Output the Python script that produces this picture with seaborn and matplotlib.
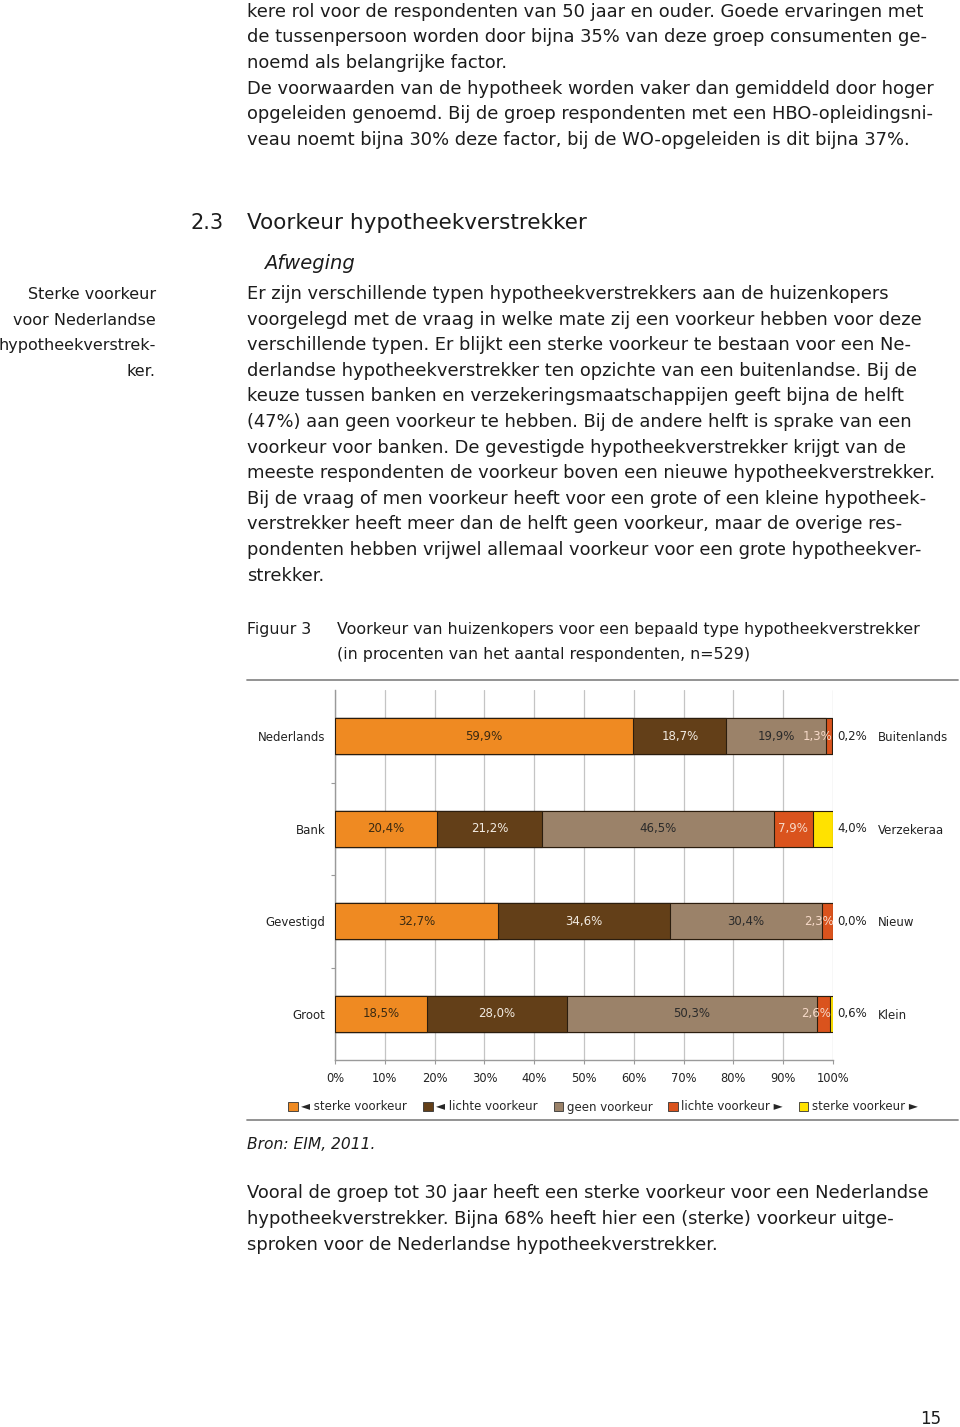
import numpy as np
import pandas as pd
import matplotlib
matplotlib.use("Agg")
import matplotlib.pyplot as plt
from matplotlib.patches import Patch
from matplotlib.lines import Line2D
import seaborn as sns

# ---------------- data ----------------
categories = ["Nederlands", "Bank", "Gevestigd", "Groot"]
right_labels = ["Buitenlands", "Verzekeraa", "Nieuw", "Klein"]
series_names = ["\u25C4 sterke voorkeur", "\u25C4 lichte voorkeur", "geen voorkeur",
                "lichte voorkeur \u25BA", "sterke voorkeur \u25BA"]
sterk_links = [59.9, 20.4, 32.7, 18.5]
licht_links = [18.7, 21.2, 34.6, 28.0]
geen = [19.9, 46.5, 30.4, 50.3]
licht_rechts = [1.3, 7.9, 2.3, 2.6]
sterk_rechts = [0.2, 4.0, 0.0, 0.6]
x_ticks = [0, 10, 20, 30, 40, 50, 60, 70, 80, 90, 100]
x_ticklabels = ["0%", "10%", "20%", "30%", "40%", "50%", "60%", "70%", "80%", "90%", "100%"]

colors = ["#EF8A22", "#633F18", "#9B8269", "#DA531D", "#FFE200"]
label_colors = ["#3a2a12", "#f2ebe2", "#2a2a2a", "#f6d9c8", "#222222"]

sns.set_theme(style="white")
plt.rcParams["font.family"] = ["DejaVu Sans"]

W, H = 960, 1427
fig = plt.figure(figsize=(W / 100, H / 100), dpi=100)
fig.patch.set_facecolor("white")

def fx(x):
    return x / W

def fy(y):
    return 1 - y / H

TXT = "#1c1c1c"
BODY = 12.9

def line(x, y, s, size=BODY, **kw):
    fig.text(fx(x), fy(y), s, fontsize=size, color=TXT, va="baseline", **kw)

# ---------------- top paragraph ----------------
top_lines = [
    "kere rol voor de respondenten van 50 jaar en ouder. Goede ervaringen met",
    "de tussenpersoon worden door bijna 35% van deze groep consumenten ge-",
    "noemd als belangrijke factor.",
    "De voorwaarden van de hypotheek worden vaker dan gemiddeld door hoger",
    "opgeleiden genoemd. Bij de groep respondenten met een HBO-opleidingsni-",
    "veau noemt bijna 30% deze factor, bij de WO-opgeleiden is dit bijna 37%.",
]
top_y = [17, 42, 68, 94, 119, 145]
for s, y in zip(top_lines, top_y):
    line(247, y, s)

# heading
line(190, 229, "2.3", size=15)
line(247, 229, "Voorkeur hypotheekverstrekker", size=15.5)
line(264, 269, "Afweging", size=14, style="italic")

# sidebar
side = ["Sterke voorkeur", "voor Nederlandse", "hypotheekverstrek-", "ker."]
for i, s in enumerate(side):
    line(156, 299 + i * 25.6, s, size=11.5, ha="right")

body = [
    "Er zijn verschillende typen hypotheekverstrekkers aan de huizenkopers",
    "voorgelegd met de vraag in welke mate zij een voorkeur hebben voor deze",
    "verschillende typen. Er blijkt een sterke voorkeur te bestaan voor een Ne-",
    "derlandse hypotheekverstrekker ten opzichte van een buitenlandse. Bij de",
    "keuze tussen banken en verzekeringsmaatschappijen geeft bijna de helft",
    "(47%) aan geen voorkeur te hebben. Bij de andere helft is sprake van een",
    "voorkeur voor banken. De gevestigde hypotheekverstrekker krijgt van de",
    "meeste respondenten de voorkeur boven een nieuwe hypotheekverstrekker.",
    "Bij de vraag of men voorkeur heeft voor een grote of een kleine hypotheek-",
    "verstrekker heeft meer dan de helft geen voorkeur, maar de overige res-",
    "pondenten hebben vrijwel allemaal voorkeur voor een grote hypotheekver-",
    "strekker.",
]
for i, s in enumerate(body):
    line(247, 299 + i * 25.6, s)

# caption
CAP = 11.4
line(247, 634, "Figuur 3", size=CAP)
line(337, 634, "Voorkeur van huizenkopers voor een bepaald type hypotheekverstrekker", size=CAP)
line(337, 659, "(in procenten van het aantal respondenten, n=529)", size=CAP)

# rules
for yy in (680, 1120):
    fig.add_artist(Line2D([fx(247), fx(958)], [fy(yy), fy(yy)], color="#8a8a8a", lw=1.3,
                          transform=fig.transFigure))

line(247, 1149, "Bron: EIM, 2011.", size=11.2, style="italic")

bottom = [
    "Vooral de groep tot 30 jaar heeft een sterke voorkeur voor een Nederlandse",
    "hypotheekverstrekker. Bijna 68% heeft hier een (sterke) voorkeur uitge-",
    "sproken voor de Nederlandse hypotheekverstrekker.",
]
for i, s in enumerate(bottom):
    line(247, 1198 + i * 25.8, s)

line(941, 1424, "15", size=12, ha="right")

# ---------------- chart ----------------
ax = fig.add_axes([fx(335), fy(1060), fx(833) - fx(335), (1060 - 690) / H])
series = [sterk_links, licht_links, geen, licht_rechts, sterk_rechts]
data = np.array(series)
cum = np.cumsum(data, axis=0)

for k in range(len(series) - 1, -1, -1):
    df = pd.DataFrame({"cat": categories, "val": cum[k]})
    sns.barplot(data=df, x="val", y="cat", orient="h", color=colors[k], width=0.39,
                edgecolor="#2b1d0e", linewidth=0.8, saturation=1, ax=ax, zorder=3)

ax.set_xlim(0, 100)
ax.set_ylim(3.5, -0.5)

VAL = 8.5
for r in range(len(categories)):
    for k in range(len(series)):
        v = data[k, r]
        txt = f"{v:.1f}%".replace(".", ",")
        end = cum[k, r]
        start = end - v
        if k == 4:
            ax.text(100.9, r, txt, ha="left", va="center", fontsize=VAL, color=label_colors[k], zorder=5)
        elif v < 5:
            ax.text(end + 0.1, r, txt, ha="right", va="center", fontsize=VAL, color=label_colors[k], zorder=5)
        else:
            ax.text((start + end) / 2, r, txt, ha="center", va="center", fontsize=VAL,
                    color=label_colors[k], zorder=5)

ax.set_xticks(x_ticks)
ax.set_xticklabels(x_ticklabels, fontsize=8.3, color="#222")
ax.set_yticks(range(len(categories)))
ax.set_yticklabels(categories, fontsize=8.5, color="#222")
ax.set_yticks([0.5, 1.5, 2.5], minor=True)
ax.set_xlabel("")
ax.set_ylabel("")
ax.xaxis.grid(True, color="#c4c4c4", lw=0.9, zorder=0)
ax.yaxis.grid(False)
ax.set_axisbelow(True)
for sp in ("top", "right"):
    ax.spines[sp].set_visible(False)
for sp in ("left", "bottom"):
    ax.spines[sp].set_color("#9a9a9a")
    ax.spines[sp].set_linewidth(1.0)
ax.tick_params(axis="y", which="major", length=0, pad=7)
ax.tick_params(axis="y", which="minor", length=3, color="#9a9a9a", width=0.8, left=True)
ax.tick_params(axis="x", which="major", length=3, color="#9a9a9a", width=0.8, pad=6, bottom=True)
ax.set_facecolor("white")

ax2 = ax.twinx()
ax2.set_ylim(ax.get_ylim())
ax2.set_yticks(range(len(categories)))
ax2.set_yticklabels(right_labels, fontsize=8.5, color="#222")
ax2.tick_params(axis="y", length=0, pad=32)
ax2.grid(False)
for sp in ax2.spines.values():
    sp.set_visible(False)

handles = [Patch(facecolor=c, edgecolor="#333333", linewidth=0.6) for c in colors]
fig.legend(handles, series_names, loc="center", bbox_to_anchor=(fx(603), fy(1107)),
           ncol=5, frameon=False, fontsize=8.5, handlelength=0.8, handleheight=0.8,
           handletextpad=0.3, columnspacing=1.35, borderaxespad=0)

fig.savefig("out.png", dpi=100, facecolor="white")
